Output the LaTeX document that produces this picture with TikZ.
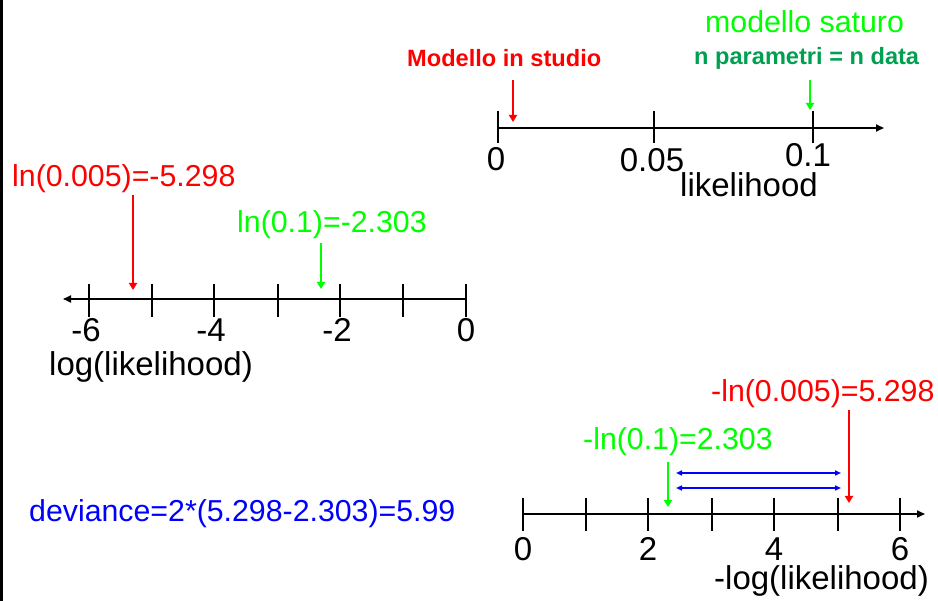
\documentclass[tikz,border=0pt]{standalone}
\usepackage{fontspec}
\setmainfont{Liberation Sans}
\usetikzlibrary{arrows.meta}
\definecolor{lgreen}{RGB}{0,255,0}
\definecolor{dgreen}{RGB}{0,160,80}
\definecolor{lblue}{RGB}{0,0,255}
\definecolor{lred}{RGB}{255,0,0}
\begin{document}
\begin{tikzpicture}[x=1pt,y=-1pt,
  lbl/.style={inner sep=0pt, font=\fontsize{30.3}{30}\selectfont},
  axlbl/.style={inner sep=0pt, font=\fontsize{33}{33}\selectfont},
  ticklbl/.style={axlbl, anchor=base, text depth=0pt},
  boldlbl/.style={inner sep=0pt, font=\fontsize{23.6}{24}\selectfont\bfseries},
  axisline/.style={line width=1.8pt, -{Triangle[length=8pt,width=7pt]}},
  tickmark/.style={line width=2.4pt},
  pointer/.style={line width=2.4pt, -{Triangle[length=7pt,width=8pt]}},
  span/.style={lblue, line width=1.5pt, {Triangle[length=6pt,width=5pt]}-{Triangle[length=6pt,width=5pt]}}]
\useasboundingbox (0,0) rectangle (938,601);

% left border
\draw[line width=2.5pt] (1.25,0) -- (1.25,601);

% ---------- likelihood axis ----------
\coordinate (a1s) at (498,128);
\coordinate (a1e) at (884,128);
\draw[axisline] (a1s) -- (a1e);
\foreach \x in {498,654,813} \draw[tickmark] (\x,111) -- (\x,143);
\node[ticklbl] (t10) at (496,171) {0};
\node[ticklbl] (t11) at (652,172) {0.05};
\node[ticklbl] (t12) at (808,167) {0.1};
\node[axlbl, anchor=base west] (a1name) at (680,197) {likelihood};

\node[lbl, lgreen, anchor=base west] (sat) at (705,33) {modello saturo};
\node[boldlbl, dgreen, anchor=base west] (satn) at (694,65) {n parametri = n data};
\node[boldlbl, lred, anchor=base west] (stud) at (407,67) {Modello in studio};

\coordinate (studtop) at (513,80);
\coordinate (studtip) at (513,122);
\draw[pointer, lred] (studtop) -- (studtip);
\coordinate (sattop) at (810,80);
\coordinate (sattip) at (810,110);
\draw[pointer, lgreen] (sattop) -- (sattip);

% ---------- log(likelihood) axis ----------
\coordinate (a2s) at (466,299);
\coordinate (a2e) at (63,299);
\draw[axisline] (a2s) -- (a2e);
\foreach \x in {89,152,214,278,340,403,466} \draw[tickmark] (\x,284) -- (\x,317);
\node[ticklbl] (t20) at (86,342) {-6};
\node[ticklbl] (t21) at (211,342) {-4};
\node[ticklbl] (t22) at (337,342) {-2};
\node[ticklbl] (t23) at (466,342) {0};
\node[axlbl, anchor=base west] (a2name) at (49,376) {log(likelihood)};

\node[lbl, lred, anchor=base west] (l005) at (12,187) {ln(0.005)=-5.298};
\node[lbl, lgreen, anchor=base west] (l01) at (237,233) {ln(0.1)=-2.303};

\coordinate (l005top) at (133,195);
\coordinate (l005tip) at (133,290);
\draw[pointer, lred] (l005top) -- (l005tip);
\coordinate (l01top) at (321,243);
\coordinate (l01tip) at (321,289);
\draw[pointer, lgreen] (l01top) -- (l01tip);

% ---------- -log(likelihood) axis ----------
\coordinate (a3s) at (523,514);
\coordinate (a3e) at (925,514);
\draw[axisline] (a3s) -- (a3e);
\foreach \x in {523,586,648,712,774,838,900} \draw[tickmark] (\x,498) -- (\x,531);
\node[ticklbl] (t30) at (523,561) {0};
\node[ticklbl] (t31) at (648,561) {2};
\node[ticklbl] (t32) at (774,561) {4};
\node[ticklbl] (t33) at (900,561) {6};
\node[axlbl, anchor=base east] (a3name) at (929,590) {-log(likelihood)};

\node[lbl, lred, anchor=base west] (m005) at (711,402) {-ln(0.005)=5.298};
\node[lbl, lgreen, anchor=base west] (m01) at (583,450) {-ln(0.1)=2.303};

\coordinate (m005top) at (849,410);
\coordinate (m005tip) at (849,503);
\draw[pointer, lred] (m005top) -- (m005tip);
\coordinate (m01top) at (668,462);
\coordinate (m01tip) at (668,507);
\draw[pointer, lgreen] (m01top) -- (m01tip);

\coordinate (d1l) at (676,473);
\coordinate (d1r) at (841,473);
\coordinate (d2l) at (676,488);
\coordinate (d2r) at (841,488);
\draw[span] (d1l) -- (d1r);
\draw[span] (d2l) -- (d2r);

\node[lbl, lblue, anchor=base west] (dev) at (29,522) {deviance=2*(5.298-2.303)=5.99};
\end{tikzpicture}
\end{document}
